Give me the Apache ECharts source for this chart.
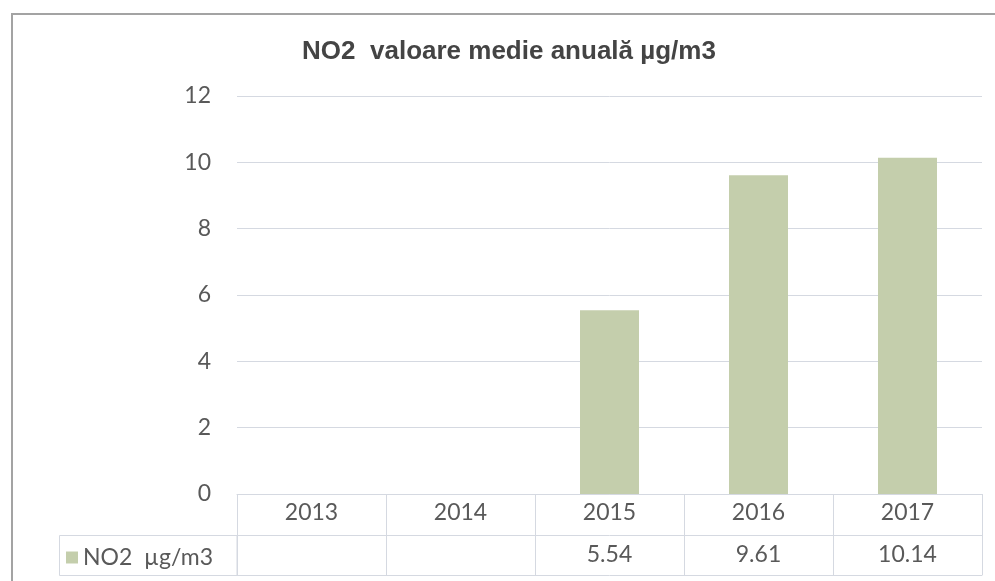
<!DOCTYPE html>
<html>
<head>
<meta charset="utf-8">
<title>NO2 valoare medie anuală</title>
<script src="https://cdn.jsdelivr.net/npm/echarts@6/dist/echarts.min.js"></script>
<style>
  html, body { margin: 0; padding: 0; background: #fff; }
  #main { width: 995px; height: 581px; }
</style>
</head>
<body>
<div id="main"></div>
<script>
// date
var titlu = 'NO2  valoare medie anuală µg/m3';
var numeSerie = 'NO2  µg/m3';
var ani = ['2013', '2014', '2015', '2016', '2017'];
var valori = [null, null, 5.54, 9.61, 10.14];
var yTicks = [0, 2, 4, 6, 8, 10, 12];

var culoareBara = '#c4ceac';
var culoareLinie = '#d5d9e1';
var culoareText = '#595959';
var font = 'Lato';

// randul de valori din tabelul de sub grafic
var etichetaValori = valori.map(function (v) {
  return v == null ? '' : v.toFixed(2);
});

var myChart = echarts.init(document.getElementById('main'));
var option = {
  backgroundColor: '#fff',
  animation: false,
  title: {
    text: titlu,
    left: 509,
    textAlign: 'center',
    top: 39,
    padding: 0,
    textStyle: {
      fontFamily: 'Liberation Sans',
      fontSize: 26,
      fontWeight: 'bold',
      color: '#444'
    }
  },
  legend: {
    left: 66,
    top: 546,
    padding: 0,
    itemWidth: 12,
    itemHeight: 12,
    icon: 'rect',
    data: [numeSerie],
    textStyle: { fontFamily: font, fontSize: 23, color: culoareText }
  },
  grid: { left: 237, right: 13, top: 96, bottom: 87 },
  xAxis: [
    {
      type: 'category',
      data: ani,
      position: 'bottom',
      axisLine: { show: true, lineStyle: { color: culoareLinie, width: 1 } },
      axisTick: { show: true, interval: 0, length: 41, lineStyle: { color: culoareLinie } },
      axisLabel: {
        margin: 19,
        verticalAlign: 'middle',
        fontFamily: font,
        fontSize: 23,
        color: culoareText
      }
    },
    {
      type: 'category',
      data: etichetaValori,
      position: 'bottom',
      offset: 41,
      axisLine: { show: true, lineStyle: { color: culoareLinie, width: 1 } },
      axisTick: { show: true, interval: 0, length: 40, lineStyle: { color: culoareLinie } },
      axisLabel: {
        margin: 20,
        interval: 0,
        verticalAlign: 'middle',
        fontFamily: font,
        fontSize: 23,
        color: culoareText
      }
    },
    {
      type: 'category',
      data: ani,
      position: 'bottom',
      offset: 81,
      axisLine: { show: true, lineStyle: { color: culoareLinie, width: 1 } },
      axisTick: { show: false },
      axisLabel: { show: false }
    }
  ],
  yAxis: {
    type: 'value',
    min: yTicks[0],
    max: yTicks[yTicks.length - 1],
    interval: 2,
    axisLine: { show: false },
    axisTick: { show: false },
    axisLabel: { margin: 26, fontFamily: font, fontSize: 23, color: culoareText },
    splitLine: { lineStyle: { color: culoareLinie, width: 1 } }
  },
  graphic: [
    {
      // chenarul exterior al graficului
      type: 'rect',
      shape: { x: 12, y: 14, width: 1000, height: 600 },
      style: { fill: 'none', stroke: '#a3a3a3', lineWidth: 2 },
      silent: true
    },
    {
      // celula legendei din tabel
      type: 'rect',
      shape: { x: 59.5, y: 535.5, width: 177.5, height: 40 },
      style: { fill: 'none', stroke: culoareLinie, lineWidth: 1 },
      silent: true
    }
  ],
  series: [
    {
      name: numeSerie,
      type: 'bar',
      data: valori,
      barWidth: 59,
      itemStyle: { color: culoareBara }
    }
  ]
};
myChart.setOption(option);
</script>
</body>
</html>
